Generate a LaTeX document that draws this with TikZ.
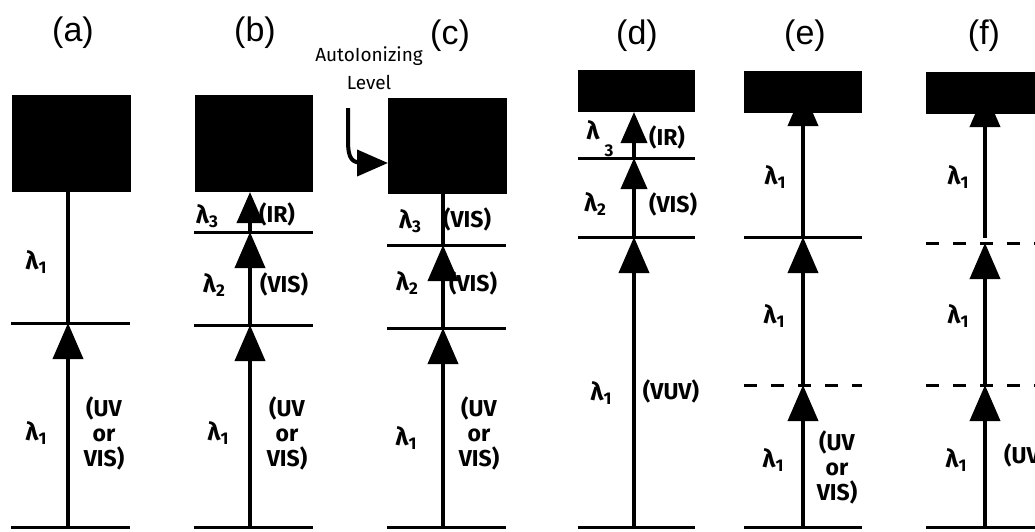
\documentclass[tikz,border=0pt]{standalone}
\usepackage{fontspec}
\setmainfont{Fira Sans}
\newfontfamily\panelfont{Liberation Sans}
\usetikzlibrary{arrows.meta}
\newcommand\lm[1]{λ\raisebox{-0.35ex}{\fontsize{17}{17}\selectfont #1}}
\begin{document}
\begin{tikzpicture}[x=1pt,y=-1pt,
  lvl/.style={line width=3pt},
  dlvl/.style={line width=3pt, dash pattern=on 13pt off 14pt},
  vline/.style={line width=3.8pt},
  trans/.style={line width=3.8pt, -{Triangle[length=36pt,width=30pt]}},
  strans/.style={line width=3.8pt, -{Triangle[length=31pt,width=26pt]}},
  cont/.style={fill=black, inner sep=0pt, outer sep=0pt},
  lam/.style={font=\bfseries\fontsize{25}{26}\selectfont, inner sep=0pt},
  band/.style={font=\bfseries\fontsize{23}{25}\selectfont, inner sep=0pt, align=center},
  ptitle/.style={font=\panelfont\fontsize{34}{36}\selectfont, inner sep=0pt}]
\useasboundingbox (0,0) rectangle (1035,531);

% ---------- continua ----------
\node[cont, minimum width=119pt, minimum height=97pt] (boxa) at (71.5,143.5) {};
\node[cont, minimum width=118pt, minimum height=97pt] (boxb) at (254,143.5) {};
\node[cont, minimum width=119pt, minimum height=96pt] (boxc) at (447.5,146) {};
\node[cont, minimum width=117pt, minimum height=42pt] (boxd) at (636.5,91) {};
\node[cont, minimum width=118pt, minimum height=42pt] (boxe) at (803,92) {};
\node[cont, minimum width=119pt, minimum height=42pt] (boxf) at (985.5,93) {};

% ---------- levels ----------
% (a)
\draw[lvl] (11,323) -- (130,323);
\draw[lvl] (11,527) -- (130,527);
% (b)
\draw[lvl] (194,232) -- (313,232);
\draw[lvl] (194,325) -- (313,325);
\draw[lvl] (194,527) -- (313,527);
% (c)
\draw[lvl] (387,245) -- (506,245);
\draw[lvl] (387,328) -- (506,328);
\draw[lvl] (387,527) -- (506,527);
% (d)
\draw[lvl] (578,158) -- (695,158);
\draw[lvl] (578,237) -- (695,237);
\draw[lvl] (578,527) -- (695,527);
% (e)
\draw[lvl] (744,237) -- (862,237);
\draw[dlvl] (744,385) -- (862,385);
\draw[lvl] (744,527) -- (862,527);
% (f)
\draw[dlvl] (926,243) -- (1040,243);
\draw[dlvl] (926,385) -- (1040,385);
\draw[lvl] (926,527) -- (1040,527);

% ---------- coordinates ----------
\coordinate (ga) at (68,527); \coordinate (a1) at (68,323); \coordinate (ta) at (68,192);
\coordinate (gb) at (250,527); \coordinate (b1) at (250,325); \coordinate (b2) at (250,232); \coordinate (tb) at (250,192);
\coordinate (gc) at (443,527); \coordinate (c1) at (443,328); \coordinate (c2) at (443,245); \coordinate (tc) at (443,194);
\coordinate (gd) at (634,527); \coordinate (d1) at (634,237); \coordinate (d2) at (634,158); \coordinate (td) at (634,112);
\coordinate (ge) at (803,527); \coordinate (e1) at (803,385); \coordinate (e2) at (803,237); \coordinate (te) at (803,90);
\coordinate (gf) at (985,527); \coordinate (f1) at (985,385); \coordinate (f2) at (985,243); \coordinate (f2b) at (985,238); \coordinate (tf) at (985,91);

% ---------- transitions ----------
\draw[trans] (ga) -- (a1);
\draw[vline] (a1) -- (ta);

\draw[trans] (gb) -- (b1);
\draw[trans] (b1) -- (b2);
\draw[strans] (b2) -- (tb);

\draw[trans] (gc) -- (c1);
\draw[trans] (c1) -- (c2);
\draw[vline] (c2) -- (tc);

\draw[trans] (gd) -- (d1);
\draw[strans] (d1) -- (d2);
\draw[strans] (d2) -- (td);

\draw[trans] (ge) -- (e1);
\draw[trans] (e1) -- (e2);
\draw[trans] (e2) -- (te);

\draw[trans] (gf) -- (f1);
\draw[trans] (f1) -- (f2);
\draw[trans] (f2b) -- (tf);

% ---------- autoionizing label ----------
\node[font=\fontsize{19}{28}\selectfont, inner sep=0pt, align=center] (auto) at (369,68) {AutoIonizing\\Level};
\coordinate (ais) at (348,108);
\coordinate (ait) at (388,163);
\draw[line width=4pt, -{Triangle[length=31pt,width=26pt]}]
  (ais) -- (348,140) .. controls (348,160) and (352,163) .. (365,163) -- (ait);

% ---------- panel titles ----------
\node[ptitle] (ta1) at (73,33) {(a)};
\node[ptitle] (tb1) at (255,33) {(b)};
\node[ptitle] (tc1) at (450,36) {(c)};
\node[ptitle] (td1) at (637,36) {(d)};
\node[ptitle] (te1) at (805,36) {(e)};
\node[ptitle] (tf1) at (984,36) {(f)};

% ---------- labels (a) ----------
\node[lam] (la1) at (36,262) {\lm{1}};
\node[lam] (la2) at (36,433) {\lm{1}};
\node[band] (wa) at (104,433) {(UV\\or\\VIS)};
% (b)
\node[lam] (lb3) at (207,216) {\lm{3}};
\node[band] (wb3) at (277,214) {(IR)};
\node[lam] (lb2) at (214,285) {\lm{2}};
\node[band] (wb2) at (284,284) {(VIS)};
\node[lam] (lb1) at (218,433) {\lm{1}};
\node[band] (wb1) at (287,433) {(UV\\or\\VIS)};
% (c)
\node[lam] (lc3) at (410,221) {\lm{3}};
\node[band] (wc3) at (467,219) {(VIS)};
\node[lam] (lc2) at (407,283) {\lm{2}};
\node[band] (wc2) at (473,283) {(VIS)};
\node[lam] (lc1) at (406,438) {\lm{1}};
\node[band] (wc1) at (479,433) {(UV\\or\\VIS)};
% (d)
\node[lam] (ld3) at (593,130) {λ};
\node[font=\bfseries\fontsize{17}{17}\selectfont, inner sep=0pt] (ld3s) at (609,151) {3};
\node[band] (wd3) at (667,137) {(IR)};
\node[lam] (ld2) at (595,204) {\lm{2}};
\node[band] (wd2) at (673,204) {(VIS)};
\node[lam] (ld1) at (601,393) {\lm{1}};
\node[band] (wd1) at (671,391) {(VUV)};
% (e)
\node[lam] (le3) at (775,177) {\lm{1}};
\node[lam] (le2) at (774,316) {\lm{1}};
\node[lam] (le1) at (773,460) {\lm{1}};
\node[band] (we1) at (837,467) {(UV\\or\\VIS)};
% (f)
\node[lam] (lf3) at (958,177) {\lm{1}};
\node[lam] (lf2) at (958,316) {\lm{1}};
\node[lam] (lf1) at (956,460) {\lm{1}};
\node[band, anchor=west] (wf1) at (1004,455) {(UV};
\end{tikzpicture}
\end{document}
